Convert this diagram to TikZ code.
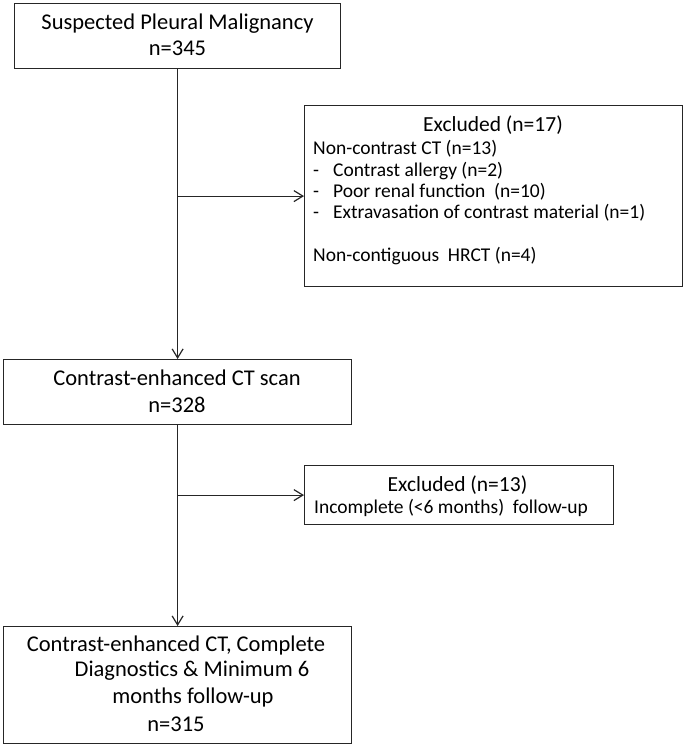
\documentclass[tikz,border=0pt]{standalone}
\usepackage{fontspec}
\setmainfont{Carlito}
\usetikzlibrary{arrows.meta}
\begin{document}
\begin{tikzpicture}[x=1pt,y=-1pt,
  box/.style={draw=black!85,line width=1.2pt,inner sep=0pt,anchor=north west},
  big/.style={font=\fontsize{22.5}{26}\selectfont,anchor=base,inner sep=0pt},
  ttl/.style={font=\fontsize{21.5}{25}\selectfont,anchor=base,inner sep=0pt},
  small/.style={font=\fontsize{19.5}{23}\selectfont,anchor=base west,inner sep=0pt},
  arr/.style={draw=black!85,line width=1.2pt,-{Straight Barb[length=9pt,width=11pt,line width=1.2pt]}}]
\useasboundingbox (0,0) rectangle (683,744);
% boxes
\node[box,minimum width=326pt,minimum height=65pt] (b1) at (14,3) {};
\node[box,minimum width=378pt,minimum height=181pt] (b2) at (304,105) {};
\node[box,minimum width=348pt,minimum height=65pt] (b3) at (3,359) {};
\node[box,minimum width=309pt,minimum height=59pt] (b4) at (304,465) {};
\node[box,minimum width=348pt,minimum height=117pt] (b5) at (3,626) {};
% texts box 1
\node[big] (t1a) at (177.5,29) {Suspected Pleural Malignancy};
\node[big] (t1b) at (177.5,55) {n=345};
% box 2
\node[ttl] (t2a) at (493,131) {Excluded (n=17)};
\node[small] (t2b) at (313,154) {Non-contrast CT (n=13)};
\node[small] (t2c) at (313,176) {-};
\node[small] (t2d) at (333,176) {Contrast allergy (n=2)};
\node[small] (t2e) at (313,197) {-};
\node[small] (t2f) at (333,197) {Poor renal function\ \ (n=10)};
\node[small] (t2g) at (313,218) {-};
\node[small] (t2h) at (333,218) {Extravasation of contrast material (n=1)};
\node[small] (t2i) at (313,261) {Non-contiguous\ \ HRCT (n=4)};
% box 3
\node[big] (t3a) at (177,385) {Contrast-enhanced CT scan};
\node[big] (t3b) at (177,412) {n=328};
% box 4
\node[ttl] (t4a) at (457.5,491) {Excluded (n=13)};
\node[small] (t4b) at (314,513) {Incomplete (<6 months)\ \ follow-up};
% box 5
\node[big] (t5a) at (176,651) {Contrast-enhanced CT, Complete};
\node[big] (t5b) at (192,676) {Diagnostics \& Minimum 6};
\node[big] (t5c) at (193,703) {months follow-up};
\node[big] (t5d) at (176,731) {n=315};
% connectors
\coordinate (j1) at (b1.south |- b2.west);
\coordinate (j2) at (b3.south |- b4.west);
\draw[arr] (b1.south) -- (b3.north);
\draw[arr] (j1) -- (b2.west);
\draw[arr] (b3.south) -- (b5.north);
\draw[arr] (j2) -- (b4.west);
\end{tikzpicture}
\end{document}
